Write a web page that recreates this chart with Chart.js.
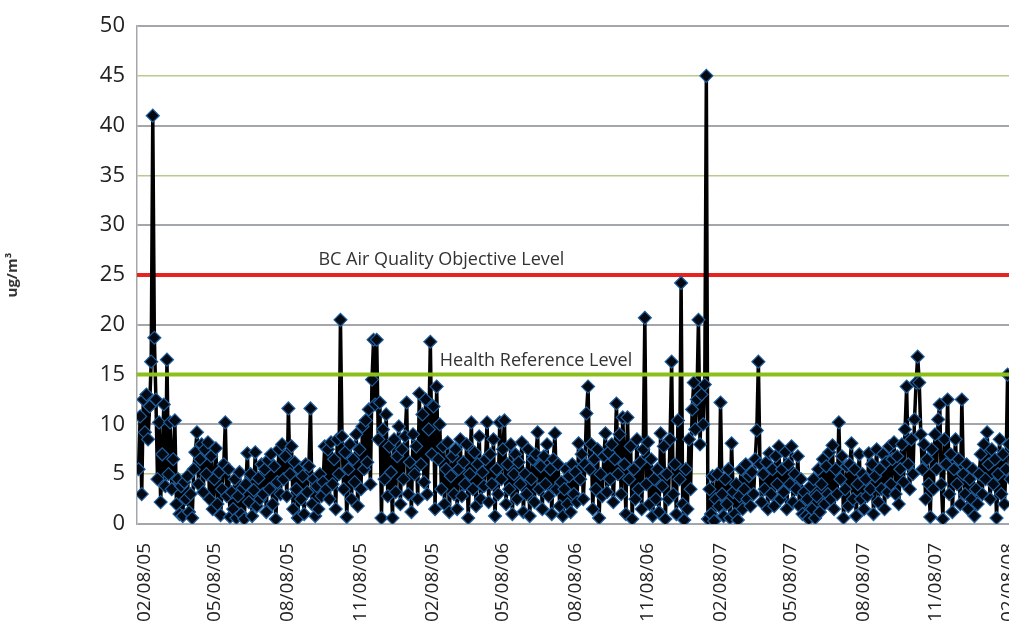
<!DOCTYPE html>
<html>
<head>
<meta charset="utf-8">
<script src="https://cdn.jsdelivr.net/npm/chart.js@4.4.1/dist/chart.umd.min.js"></script>
<style>
  html, body { margin: 0; padding: 0; background: #fff; overflow: hidden; }
  #wrap { width: 1009px; height: 627px; overflow: hidden; }
</style>
</head>
<body>
<div id="wrap"><canvas id="bcChart" width="1020" height="627"></canvas></div>
<script>
// axis starts a few days before the first sample
const AXIS_START = '2005-01-29';
const FIRST_SAMPLE = '2005-01-31';
const SAMPLE_STEP_DAYS = 2;
const X_MAX_DAYS = 1110;

const TICK_DATES = ['2005-02-08','2005-05-08','2005-08-08','2005-11-08','2006-02-08','2006-05-08',
  '2006-08-08','2006-11-08','2007-02-08','2007-05-08','2007-08-08','2007-11-08','2008-02-08'];
const TICK_LABELS = ['02/08/05','05/08/05','08/08/05','11/08/05','02/08/05','05/08/06',
  '08/08/06','11/08/06','02/08/07','05/08/07','08/08/07','11/08/07','02/08/08'];

// black carbon, ug/m3, one reading every two days
const BC_VALUES = [
  5.5,10.8,3.0,12.5,9.2,13.0,8.5,11.8,16.3,41.0,18.7,12.5,4.5,10.2,2.2,7.0,12.0,3.8,16.5,5.0,
  10.2,3.5,6.5,10.4,2.0,4.5,1.0,3.8,0.8,4.2,2.5,4.8,1.2,3.0,0.6,5.5,7.2,9.2,4.0,6.5,
  8.0,3.2,7.5,5.0,8.2,2.5,6.8,1.5,4.5,7.6,2.0,5.2,0.9,3.5,6.0,10.2,2.8,5.5,0.7,3.2,
  1.5,4.5,0.6,2.8,5.2,1.0,3.6,0.5,4.0,7.1,2.2,5.0,0.8,3.4,7.2,1.8,4.6,2.5,6.0,3.0,
  5.5,1.2,6.4,3.5,7.0,2.0,5.8,0.5,4.2,7.5,3.0,8.0,4.5,6.8,2.8,11.6,5.0,7.8,1.5,6.2,
  3.5,0.6,5.5,2.5,4.8,1.0,6.0,3.2,5.8,11.6,2.0,4.5,0.8,3.8,1.5,5.0,2.8,4.2,7.8,3.5,
  7.5,2.5,8.2,4.0,6.5,1.5,8.5,5.0,20.5,8.8,3.5,7.2,0.7,5.5,8.0,2.5,6.5,4.2,9.0,1.8,
  7.5,3.5,9.8,5.5,10.4,6.2,11.5,4.0,14.5,18.5,12.0,18.5,8.5,12.2,0.6,9.5,4.5,11.0,2.8,7.8,
  5.2,0.6,8.5,3.2,6.8,9.8,2.0,7.5,4.5,8.8,12.2,3.0,6.2,1.2,9.0,5.0,7.8,2.5,13.1,6.0,
  11.0,4.2,12.5,3.0,9.5,18.3,7.0,11.8,1.5,13.8,6.5,10.0,3.5,7.8,2.0,5.5,8.2,1.2,4.8,6.8,
  3.0,7.5,1.5,5.5,8.5,2.8,6.2,4.0,8.0,0.6,5.0,10.2,3.5,7.2,1.8,6.0,8.8,2.5,5.2,3.8,
  6.5,10.2,2.2,7.0,4.0,8.5,0.8,5.5,3.0,10.2,4.5,7.5,10.4,2.0,6.0,3.5,8.0,1.0,5.0,7.0,
  2.5,6.2,4.0,8.2,1.2,5.0,3.0,7.5,0.8,4.5,6.5,2.2,7.0,9.2,3.5,5.8,1.5,6.8,4.0,8.0,
  2.8,5.5,1.0,6.5,9.1,3.5,6.0,1.8,4.2,0.8,3.5,5.5,2.0,4.8,1.2,6.0,3.0,5.2,2.2,8.1,
  4.5,7.0,2.5,6.0,11.1,13.8,5.5,8.0,1.5,6.5,3.5,7.5,0.6,5.0,2.8,6.8,9.1,3.2,7.2,4.5,
  8.0,2.2,6.5,12.1,5.0,9.0,3.0,10.7,6.0,1.0,10.7,4.5,7.8,0.5,5.5,2.5,8.5,3.5,6.2,1.5,
  7.5,20.7,4.0,8.2,2.0,6.5,0.8,4.5,2.5,5.5,1.2,9.1,3.8,7.8,0.5,5.0,2.5,8.5,16.3,3.0,
  6.0,1.0,10.4,4.5,24.2,2.0,0.4,5.5,1.5,8.5,3.5,11.5,14.2,9.5,12.5,20.5,8.0,13.0,10.0,14.0,
  45.0,0.5,3.5,1.0,4.8,0.3,2.5,5.0,1.8,12.2,3.0,0.8,4.5,2.0,5.5,0.6,8.1,3.2,1.0,4.0,
  0.4,2.8,5.5,1.5,3.5,6.0,2.5,4.8,1.8,5.2,3.0,6.5,9.4,16.3,6.0,2.2,5.0,3.5,6.2,1.5,
  7.1,3.0,5.5,1.8,6.8,4.0,7.8,2.5,5.5,3.2,7.2,1.5,6.0,4.0,7.8,2.2,5.0,3.5,6.8,1.8,
  4.5,1.0,3.2,0.8,2.5,0.5,3.8,1.5,4.5,0.6,2.8,5.5,1.2,4.0,6.5,2.0,5.8,3.0,7.2,2.5,
  7.9,1.5,5.5,3.0,10.2,4.5,6.8,0.6,3.5,5.8,1.8,6.0,8.1,2.5,5.5,0.8,4.0,7.0,2.5,5.0,
  1.5,4.5,2.8,7.1,3.5,6.0,1.0,4.8,7.5,2.2,5.5,3.5,7.0,1.5,6.2,3.2,7.8,4.0,6.5,8.2,
  3.0,6.8,2.0,5.5,8.0,4.2,9.5,13.8,6.0,3.5,8.5,5.0,10.5,14.2,16.8,14.2,9.0,5.5,8.0,2.5,
  6.5,4.0,0.7,7.5,3.5,9.0,5.5,10.5,12.0,4.0,0.5,8.5,6.0,12.5,3.0,7.0,1.2,5.5,8.5,4.0,
  6.5,2.0,12.5,5.0,3.0,6.0,1.5,4.5,2.5,5.5,0.8,3.5,2.0,5.0,7.0,3.0,8.0,4.5,9.2,6.0,
  2.5,7.5,4.0,6.5,0.6,5.0,8.5,3.0,7.0,2.0,5.5,15.0,8.0,4.5
];

const OBJECTIVE_LEVEL = 25;
const HEALTH_LEVEL = 15;
const OBJECTIVE_TEXT = 'BC Air Quality Objective Level';
const HEALTH_TEXT = 'Health Reference Level';
const OBJECTIVE_TEXT_DAY = 386;
const HEALTH_TEXT_DAY = 506;

function dayOf(d) {
  return Math.round((Date.parse(d) - Date.parse(AXIS_START)) / 86400000);
}

const firstDay = dayOf(FIRST_SAMPLE);
const bcPoints = BC_VALUES.map((v, i) => ({ x: firstDay + i * SAMPLE_STEP_DAYS, y: v }));
const tickDays = TICK_DATES.map(dayOf);

const levelText = {
  id: 'levelText',
  afterDatasetsDraw(chart) {
    const { ctx, scales: { x, y } } = chart;
    ctx.save();
    ctx.font = '18px "Open Sans"';
    ctx.fillStyle = '#333';
    ctx.textAlign = 'center';
    ctx.textBaseline = 'alphabetic';
    ctx.fillText(OBJECTIVE_TEXT, x.getPixelForValue(OBJECTIVE_TEXT_DAY), y.getPixelForValue(OBJECTIVE_LEVEL) - 10);
    ctx.fillText(HEALTH_TEXT, x.getPixelForValue(HEALTH_TEXT_DAY), y.getPixelForValue(HEALTH_LEVEL) - 9);
    ctx.restore();
  }
};

const config = {
  type: 'line',
  data: {
    datasets: [
      {
        data: [{ x: 0, y: HEALTH_LEVEL }, { x: X_MAX_DAYS, y: HEALTH_LEVEL }],
        borderColor: '#8cbf1c',
        borderWidth: 4,
        pointRadius: 0,
        order: 0
      },
      {
        data: bcPoints,
        borderColor: '#000',
        borderWidth: 3.5,
        pointStyle: 'rectRot',
        pointRadius: 6.5,
        pointBackgroundColor: '#030a14',
        pointBorderColor: '#1f5f9e',
        pointBorderWidth: 1.2,
        order: 1
      },
      {
        data: [{ x: 0, y: OBJECTIVE_LEVEL }, { x: X_MAX_DAYS, y: OBJECTIVE_LEVEL }],
        borderColor: '#e8231f',
        borderWidth: 4,
        pointRadius: 0,
        order: 2
      }
    ]
  },
  options: {
    responsive: false,
    animation: false,
    devicePixelRatio: 1,
    layout: { padding: { top: 26, right: 0, left: 0, bottom: 0 } },
    plugins: {
      legend: { display: false },
      tooltip: { enabled: false }
    },
    scales: {
      x: {
        type: 'linear',
        min: 0,
        max: X_MAX_DAYS,
        grid: { display: false },
        border: { display: false },
        afterBuildTicks: (scale) => { scale.ticks = tickDays.map(v => ({ value: v })); },
        afterFit: (scale) => {
          scale.height = 103;
          // let the last date run off the edge like the original
          scale.paddingLeft = 0;
          scale.paddingRight = 0;
        },
        ticks: {
          autoSkip: false,
          minRotation: 90,
          maxRotation: 90,
          padding: 11,
          color: '#222',
          font: { family: '"Open Sans"', size: 19 },
          callback: (v) => TICK_LABELS[tickDays.indexOf(v)]
        }
      },
      y: {
        min: 0,
        max: 50,
        afterFit: (scale) => { scale.width = 137; },
        border: { color: '#a3a7ab', width: 1.5 },
        grid: {
          drawTicks: false,
          color: (c) => c.tick.value % 10 === 0 ? '#a3a7ab' : '#b8cb8e',
          lineWidth: (c) => c.tick.value % 10 === 0 ? 2 : 1.5
        },
        ticks: {
          stepSize: 5,
          padding: 12,
          color: '#222',
          font: { family: '"Open Sans"', size: 22 }
        },
        title: {
          display: true,
          text: 'ug/m³',
          color: '#333',
          font: { family: '"Open Sans"', size: 15, weight: 'bold' },
          padding: { top: 4, bottom: 0 }
        }
      }
    }
  },
  plugins: [levelText]
};

const bcCanvas = document.getElementById('bcChart').getContext('2d');
const bcChart = new Chart(bcCanvas, config);
</script>
</body>
</html>
